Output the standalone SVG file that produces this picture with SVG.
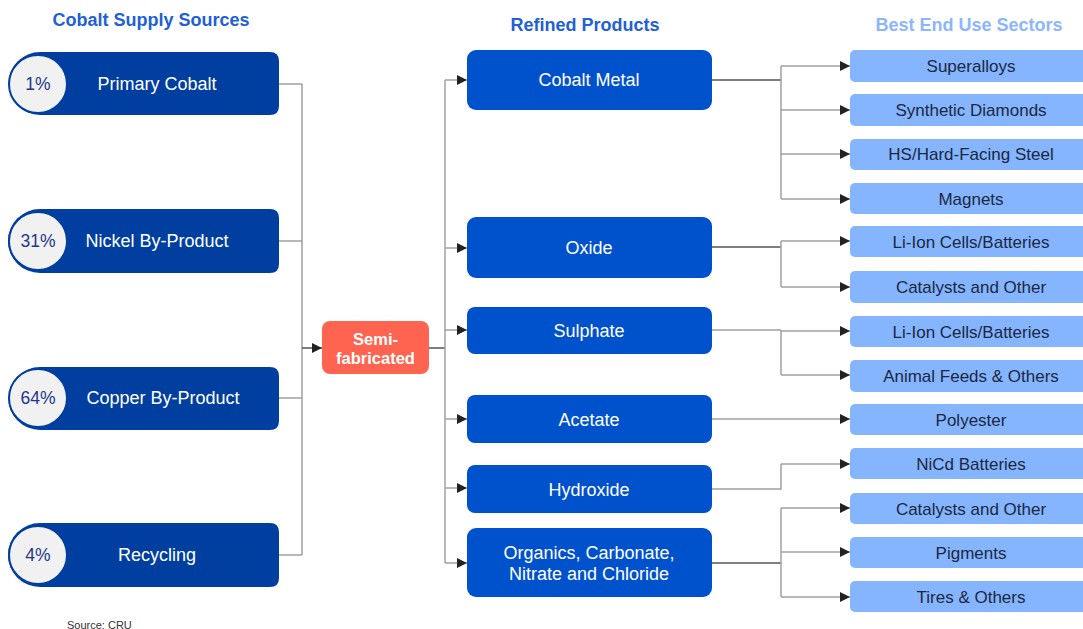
<svg xmlns="http://www.w3.org/2000/svg" width="1083" height="629" viewBox="0 0 1083 629">
<defs>
<marker id="arr" viewBox="0 0 10 10" refX="10" refY="5" markerWidth="11" markerHeight="10" markerUnits="userSpaceOnUse" orient="auto">
<path d="M0,0 L10,5 L0,10 z" fill="#222"/>
</marker>
</defs>
<style>
text{font-family:"Liberation Sans",Arial,sans-serif;}
.hdr{font-size:18px;font-weight:bold;fill:#2160d6;text-anchor:middle;}
.hdr2{font-size:18px;font-weight:bold;fill:#8db5ff;text-anchor:middle;}
.src{fill:#003f9f;}
.pct{fill:#f1f1f1;stroke:#003f9f;stroke-width:2;}
.pt{font-size:17.5px;fill:#23378a;text-anchor:middle;dominant-baseline:central;}
.st{font-size:18px;fill:#fff;text-anchor:middle;dominant-baseline:central;}
.ref{fill:#0052cc;}
.rt{font-size:18px;fill:#fff;text-anchor:middle;dominant-baseline:central;}
.use{fill:#85b5ff;}
.ut{font-size:17px;fill:#1c2740;text-anchor:middle;dominant-baseline:central;}
.semi{fill:#fe6450;}
.smt{font-size:16.5px;font-weight:bold;fill:#fff;text-anchor:middle;}
.c{fill:none;stroke:#a0a0a0;stroke-width:1.5;}
.cd{fill:none;stroke:#555;stroke-width:1.5;}
.a{marker-end:url(#arr);}
</style>

<text class="hdr" x="151" y="26">Cobalt Supply Sources</text>
<text class="hdr" x="585" y="31">Refined Products</text>
<text class="hdr2" x="969" y="31">Best End Use Sectors</text>

<g id="connectors">
<path class="c" d="M279,84 H302 M279,241 H302 M279,398 H302 M279,555 H302 M302,84 V555"/>
<path class="cd a" d="M302,348 H322"/>
<path class="cd" d="M429,348 H445"/>
<path class="c" d="M445,80 V563"/>
<path class="c a" d="M445,80 H467"/>
<path class="c a" d="M445,248 H467"/>
<path class="c a" d="M445,330 H467"/>
<path class="c a" d="M445,419 H467"/>
<path class="c a" d="M445,488 H467"/>
<path class="c a" d="M445,563 H467"/>
<path class="cd" d="M712,80 H781"/>
<path class="c" d="M781,66 V199"/>
<path class="c a" d="M781,66 H850"/>
<path class="c a" d="M781,110 H850"/>
<path class="c a" d="M781,154 H850"/>
<path class="c a" d="M781,199 H850"/>
<path class="cd" d="M712,247 H781"/>
<path class="c" d="M781,241 V287"/>
<path class="c a" d="M781,241 H850"/>
<path class="c a" d="M781,287 H850"/>
<path class="c" d="M712,330 H781"/>
<path class="c" d="M781,330 V375"/>
<path class="c a" d="M781,331 H850"/>
<path class="c a" d="M781,375 H850"/>
<path class="c a" d="M712,419 H850"/>
<path class="c" d="M712,489 H781 V464"/>
<path class="c a" d="M781,464 H850"/>
<path class="cd" d="M712,563 H781"/>
<path class="c" d="M781,508 V597"/>
<path class="c a" d="M781,508 H850"/>
<path class="c a" d="M781,552 H850"/>
<path class="c a" d="M781,597 H850"/>
</g>

<g id="primary-cobalt">
<path class="src" d="M40,52 H270 Q279,52 279,61 V106 Q279,115 270,115 H40 A31.5,31.5 0 0 1 40,52 Z"/>
<circle class="pct" cx="38" cy="84" r="29"/>
<text class="pt" x="38" y="84">1%</text>
<text class="st" x="157" y="84">Primary Cobalt</text>
</g>
<g id="nickel">
<path class="src" d="M40,209 H270 Q279,209 279,218 V264 Q279,273 270,273 H40 A32,32 0 0 1 40,209 Z"/>
<circle class="pct" cx="38" cy="241" r="29"/>
<text class="pt" x="38" y="241">31%</text>
<text class="st" x="157" y="241">Nickel By-Product</text>
</g>
<g id="copper">
<path class="src" d="M40,367 H270 Q279,367 279,376 V421 Q279,430 270,430 H40 A31.5,31.5 0 0 1 40,367 Z"/>
<circle class="pct" cx="38" cy="398" r="29"/>
<text class="pt" x="38" y="398">64%</text>
<text class="st" x="163" y="398">Copper By-Product</text>
</g>
<g id="recycling">
<path class="src" d="M40,523 H270 Q279,523 279,532 V578 Q279,587 270,587 H40 A32,32 0 0 1 40,523 Z"/>
<circle class="pct" cx="38" cy="555" r="29"/>
<text class="pt" x="38" y="555">4%</text>
<text class="st" x="157" y="555">Recycling</text>
</g>

<g id="semi-fabricated">
<rect class="semi" x="322" y="321" width="107" height="53" rx="8"/>
<text class="smt" x="375.5" y="345">Semi-</text>
<text class="smt" x="375.5" y="364">fabricated</text>
</g>

<g id="cobalt-metal"><rect class="ref" x="467" y="50" width="245" height="60" rx="9"/><text class="rt" x="589" y="80">Cobalt Metal</text></g>
<g id="oxide"><rect class="ref" x="467" y="217" width="245" height="61" rx="9"/><text class="rt" x="589" y="248">Oxide</text></g>
<g id="sulphate"><rect class="ref" x="467" y="307" width="245" height="47" rx="8"/><text class="rt" x="589" y="331">Sulphate</text></g>
<g id="acetate"><rect class="ref" x="467" y="395" width="245" height="48" rx="8"/><text class="rt" x="589" y="420">Acetate</text></g>
<g id="hydroxide"><rect class="ref" x="467" y="465" width="245" height="48" rx="8"/><text class="rt" x="589" y="490">Hydroxide</text></g>
<g id="organics"><rect class="ref" x="467" y="528" width="245" height="69" rx="9"/><text class="rt" x="589" y="553">Organics, Carbonate,</text><text class="rt" x="589" y="574">Nitrate and Chloride</text></g>

<g id="superalloys"><rect class="use" x="850" y="50" width="245" height="32" rx="5"/><text class="ut" x="971" y="66">Superalloys</text></g>
<g id="synthetic-diamonds"><rect class="use" x="850" y="94" width="245" height="32" rx="5"/><text class="ut" x="971" y="110">Synthetic Diamonds</text></g>
<g id="hs-steel"><rect class="use" x="850" y="139" width="245" height="31" rx="5"/><text class="ut" x="971" y="154">HS/Hard-Facing Steel</text></g>
<g id="magnets"><rect class="use" x="850" y="183" width="245" height="31" rx="5"/><text class="ut" x="971" y="199">Magnets</text></g>
<g id="li-ion-1"><rect class="use" x="850" y="226" width="245" height="31" rx="5"/><text class="ut" x="971" y="242">Li-Ion Cells/Batteries</text></g>
<g id="catalysts-1"><rect class="use" x="850" y="271" width="245" height="32" rx="5"/><text class="ut" x="971" y="287">Catalysts and Other</text></g>
<g id="li-ion-2"><rect class="use" x="850" y="316" width="245" height="31" rx="5"/><text class="ut" x="971" y="332">Li-Ion Cells/Batteries</text></g>
<g id="animal-feeds"><rect class="use" x="850" y="360" width="245" height="32" rx="5"/><text class="ut" x="971" y="376">Animal Feeds &amp; Others</text></g>
<g id="polyester"><rect class="use" x="850" y="404" width="245" height="31" rx="5"/><text class="ut" x="971" y="420">Polyester</text></g>
<g id="nicd"><rect class="use" x="850" y="448" width="245" height="31" rx="5"/><text class="ut" x="971" y="464">NiCd Batteries</text></g>
<g id="catalysts-2"><rect class="use" x="850" y="493" width="245" height="31" rx="5"/><text class="ut" x="971" y="509">Catalysts and Other</text></g>
<g id="pigments"><rect class="use" x="850" y="537" width="245" height="31" rx="5"/><text class="ut" x="971" y="553">Pigments</text></g>
<g id="tires"><rect class="use" x="850" y="581" width="245" height="31" rx="5"/><text class="ut" x="971" y="597">Tires &amp; Others</text></g>

<text x="67" y="629" style="font-size:11px;fill:#333;">Source: CRU</text>
</svg>
